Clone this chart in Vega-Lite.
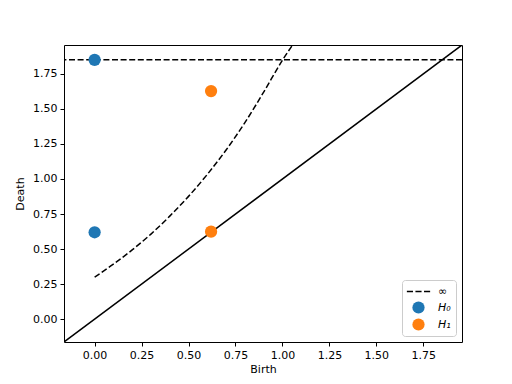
{
  "$schema": "https://vega.github.io/schema/vega-lite/v6.json",
  "autosize": "none",
  "padding": {"left": 64, "top": 45, "right": 50, "bottom": 42},
  "width": 398,
  "height": 297,
  "config": {
    "font": "DejaVu Sans",
    "view": {"stroke": "black", "strokeWidth": 1},
    "axis": {
      "grid": false,
      "domain": false,
      "tickColor": "black",
      "tickSize": 4,
      "tickWidth": 1,
      "labelColor": "black",
      "labelFont": "DejaVu Sans",
      "labelFontSize": 11,
      "labelPadding": 3,
      "titleFont": "DejaVu Sans",
      "titleFontSize": 11,
      "titleFontWeight": "normal",
      "titleColor": "black"
    }
  },
  "datasets": {
    "diag": [{"x": -0.163, "y": -0.163}, {"x": 1.956, "y": 1.956}],
    "inf": [{"y": 1.85}],
    "curve": [
      {"x": 0.0, "y": 0.3},
      {"x": 0.1, "y": 0.392},
      {"x": 0.2, "y": 0.494},
      {"x": 0.3, "y": 0.607},
      {"x": 0.4, "y": 0.735},
      {"x": 0.5, "y": 0.876},
      {"x": 0.6, "y": 1.033},
      {"x": 0.7, "y": 1.207},
      {"x": 0.8, "y": 1.402},
      {"x": 0.9, "y": 1.62},
      {"x": 1.0, "y": 1.848},
      {"x": 1.06, "y": 1.97},
      {"x": 1.1, "y": 2.06}
    ],
    "points": [
      {"birth": 0.0, "death": 0.62, "dim": "H₀"},
      {"birth": 0.0, "death": 1.85, "dim": "H₀"},
      {"birth": 0.62, "death": 1.627, "dim": "H₁"},
      {"birth": 0.62, "death": 0.624, "dim": "H₁"}
    ]
  },
  "layer": [
    {
      "data": {"name": "diag"},
      "mark": {"type": "line", "color": "black", "strokeWidth": 1.5, "clip": true},
      "encoding": {
        "x": {"field": "x", "type": "quantitative", "scale": {"domain": [-0.163, 1.956], "nice": false, "zero": false},
          "axis": {"values": [0, 0.25, 0.5, 0.75, 1, 1.25, 1.5, 1.75], "format": ".2f", "title": "Birth", "titlePadding": 3}},
        "y": {"field": "y", "type": "quantitative", "scale": {"domain": [-0.163, 1.956], "nice": false, "zero": false},
          "axis": {"values": [0, 0.25, 0.5, 0.75, 1, 1.25, 1.5, 1.75], "format": ".2f", "title": "Death", "titlePadding": 7}}
      }
    },
    {
      "data": {"name": "inf"},
      "mark": {"type": "rule", "color": "black", "strokeWidth": 1.5, "strokeDash": [6, 2.6]},
      "encoding": {"y": {"field": "y", "type": "quantitative"}}
    },
    {
      "data": {"name": "curve"},
      "mark": {"type": "line", "color": "black", "strokeWidth": 1.5, "strokeDash": [6, 2.6], "interpolate": "monotone", "clip": true},
      "encoding": {
        "x": {"field": "x", "type": "quantitative"},
        "y": {"field": "y", "type": "quantitative"}
      }
    },
    {
      "data": {"name": "points"},
      "mark": {"type": "point", "filled": true, "opacity": 1, "size": 150},
      "encoding": {
        "x": {"field": "birth", "type": "quantitative"},
        "y": {"field": "death", "type": "quantitative"},
        "color": {"field": "dim", "type": "nominal",
          "scale": {"domain": ["∞", "H₀", "H₁"], "range": ["black", "#1f77b4", "#ff7f0e"]},
          "legend": {
            "title": null,
            "orient": "bottom-right",
            "offset": 6,
            "padding": 5,
            "fillColor": "rgba(255,255,255,0.8)",
            "strokeColor": "#cccccc",
            "cornerRadius": 3,
            "symbolOffset": 5,
            "labelOffset": 13,
            "rowPadding": 4,
            "labelFontSize": 11,
            "labelFontStyle": "italic",
            "labelColor": "black",
            "symbolStrokeWidth": 0,
            "symbolSize": 150,
            "symbolOpacity": 1
          }},
        "shape": {"field": "dim", "type": "nominal",
          "scale": {"domain": ["∞", "H₀", "H₁"], "range": ["M-1.9,-0.125h1.0v0.25h-1.0zM-0.5,-0.125h1.0v0.25h-1.0zM0.9,-0.125h1.0v0.25h-1.0z", "circle", "circle"]}}
      }
    }
  ]
}
